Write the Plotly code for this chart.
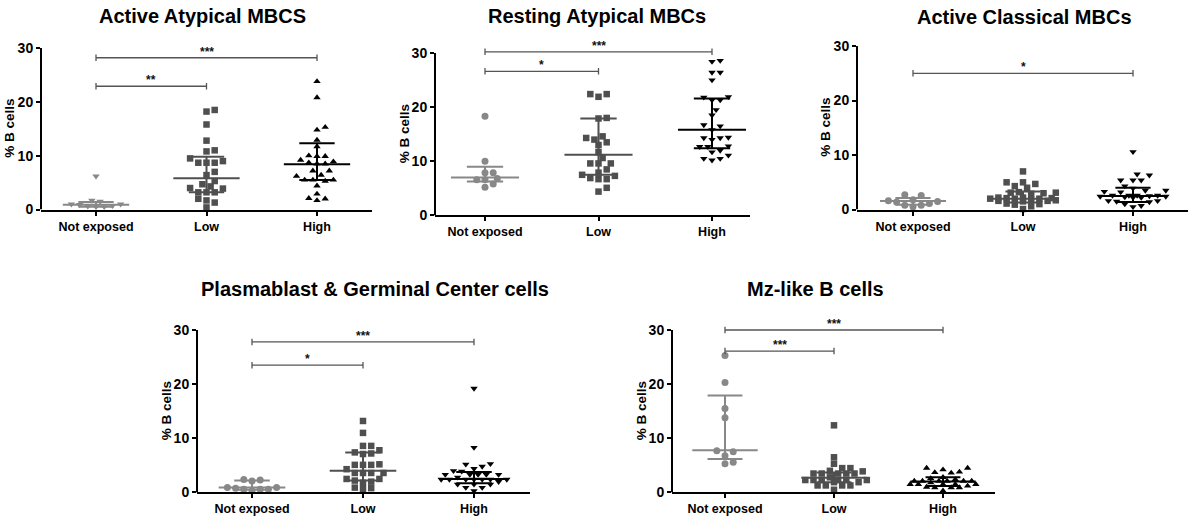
import numpy as np
import plotly.graph_objects as go

W, H = 1192, 523
FONT = "Liberation Sans, Arial, sans-serif"

# ---------------- data ----------------
groups = ["Not exposed", "Low", "High"]
titles = ["Active Atypical MBCS", "Resting Atypical MBCs", "Active Classical MBCs",
          "Plasmablast & Germinal Center cells", "Mz-like B cells"]
y_ticks = [0, 10, 20, 30]
y_title = "% B cells"

# Active Atypical MBCS
aa_ne = [6.2, 1.7, 1.5, 1.0, 1.0, 0.9, 0.7, 0.6, 0.5, 0.5]
aa_low = [18.2, 18.5, 15.8, 12.8, 11.0, 10.8, 9.5, 8.7, 8.7, 8.7, 9.0, 7.0, 6.4,
          4.0, 4.3, 4.7, 5.3, 3.9, 3.2, 3.2, 3.2, 1.7, 2.0, 1.3, 0.4]
aa_high = [23.8, 20.8, 15.3, 14.8, 12.9, 11.7, 9.9, 9.9, 10.0, 9.2, 8.7, 8.9, 8.5, 8.5,
           7.2, 7.2, 6.4, 6.2, 5.5, 5.5, 5.5, 5.3, 4.4, 2.1, 1.7, 2.0, 2.9]
aa_median = [0.9, 5.8, 8.4]
aa_q1 = [0.5, 3.2, 5.5]
aa_q3 = [1.4, 9.8, 12.3]
aa_sig = [(0, 2, 28.2, "***"), (0, 1, 22.9, "**")]

# Resting Atypical MBCs
ra_ne = [18.3, 10.0, 7.9, 7.9, 6.6, 6.6, 6.8, 5.8, 5.2]
ra_low = [22.4, 21.9, 22.4, 18.0, 17.9, 14.6, 14.0, 14.3, 13.0, 13.5, 11.7, 10.6,
          9.6, 8.5, 9.6, 9.6, 7.9, 7.3, 6.7, 6.7, 6.9, 7.5, 5.1, 4.4]
ra_high = [28.4, 28.6, 26.4, 26.4, 25.0, 21.8, 21.3, 21.3, 21.9, 19.5, 18.5, 16.5,
           15.8, 16.7, 14.3, 14.0, 14.3, 14.4, 12.7, 12.7, 11.7, 12.0, 10.5, 10.2,
           10.5, 11.1, 12.8]
ra_median = [7.0, 11.2, 15.8]
ra_q1 = [6.25, 7.5, 12.4]
ra_q3 = [9.0, 17.9, 21.6]
ra_sig = [(0, 2, 30.2, "***"), (0, 1, 26.6, "*")]

# Active Classical MBCs
ac_ne = [2.7, 2.6, 1.8, 1.6, 1.5, 1.1, 0.8, 0.8, 0.5, 1.4]
ac_low = [7.0, 5.0, 4.7, 5.0, 4.0, 4.3, 3.1, 3.0, 2.9, 3.1, 3.2, 2.2, 2.1, 2.0,
          2.0, 2.1, 2.2, 2.0, 1.8, 1.6, 1.5, 1.6, 1.7, 1.1, 1.0, 0.9, 0.6, 0.1]
ac_high = [10.6, 6.5, 6.3, 5.4, 5.4, 5.4, 4.3, 3.9, 3.5, 3.5, 3.3, 3.2, 2.6, 2.4,
           2.4, 2.6, 2.6, 2.6, 2.5, 2.2, 2.3, 2.2, 1.6, 1.4, 1.5, 1.6, 0.7, 0.5, 1.0]
ac_median = [1.55, 2.0, 2.5]
ac_q1 = [0.9, 1.3, 1.4]
ac_q3 = [2.1, 3.3, 4.0]
ac_sig = [(0, 2, 25.0, "*")]

# Plasmablast & Germinal Center cells
pg_ne = [2.1, 2.4, 2.3, 0.9, 0.6, 0.3, 0.6, 0.6, 0.9, 0.8]
pg_low = [13.2, 11.0, 8.6, 8.6, 7.8, 7.2, 7.1, 7.4, 5.2, 5.1, 4.3, 5.1, 5.1,
          3.6, 3.6, 3.6, 3.6, 2.2, 1.8, 2.5, 2.5, 2.0, 0.9, 0.6, 0.8]
pg_high = [19.2, 8.3, 5.3, 5.2, 4.8, 4.0, 3.9, 4.4, 3.3, 3.3, 3.3, 3.3, 3.3,
           2.4, 2.4, 2.4, 2.4, 2.4, 2.4, 2.4, 1.5, 1.5, 0.9, 0.9, 1.5, 0.3, 2.8, 2.0]
pg_median = [0.9, 4.0, 2.5]
pg_q1 = [0.5, 2.2, 1.7]
pg_q3 = [2.2, 7.4, 3.8]
pg_sig = [(0, 2, 27.8, "***"), (0, 1, 23.5, "*")]

# Mz-like B cells
mz_ne = [25.3, 20.3, 15.5, 13.8, 7.7, 7.5, 6.8, 5.3, 5.6]
mz_low = [12.4, 6.5, 5.3, 4.5, 4.5, 3.9, 3.5, 3.5, 3.5, 3.5, 3.5, 4.0, 2.3, 1.9,
          2.3, 2.3, 2.3, 2.3, 1.9, 2.3, 1.3, 1.3, 1.3, 1.3, 0.5, 2.8]
mz_high = [3.8, 3.6, 4.5, 4.2, 4.5, 3.7, 2.8, 2.1, 2.1, 2.1, 2.1, 2.1, 2.1, 1.5,
           1.5, 1.5, 1.5, 1.5, 0.9, 0.9, 0.9, 0.3, 2.6, 2.4, 1.2, 1.0, 1.8]
mz_median = [7.8, 2.7, 2.05]
mz_q1 = [6.2, 1.9, 1.2]
mz_q3 = [17.9, 3.7, 2.8]
mz_sig = [(0, 2, 30.0, "***"), (0, 1, 26.1, "***")]

panels = [
    dict(vals=[aa_ne, aa_low, aa_high], med=aa_median, q1=aa_q1, q3=aa_q3, sig=aa_sig),
    dict(vals=[ra_ne, ra_low, ra_high], med=ra_median, q1=ra_q1, q3=ra_q3, sig=ra_sig),
    dict(vals=[ac_ne, ac_low, ac_high], med=ac_median, q1=ac_q1, q3=ac_q3, sig=ac_sig),
    dict(vals=[pg_ne, pg_low, pg_high], med=pg_median, q1=pg_q1, q3=pg_q3, sig=pg_sig),
    dict(vals=[mz_ne, mz_low, mz_high], med=mz_median, q1=mz_q1, q3=mz_q3, sig=mz_sig),
]

# ---------------- layout / style ----------------
geom = [
    dict(left=41, right=372, base=211, top30=46, c0=96, c2=317, title=(202, 13)),
    dict(left=435, right=750, base=217, top30=51, c0=485, c2=712, title=(597, 13)),
    dict(left=857, right=1188, base=211, top30=44, c0=913, c2=1133, title=(1024, 14)),
    dict(left=197, right=530, base=500, top30=334, c0=252, c2=474, title=(375, 292)),
    dict(left=672, right=995, base=500, top30=334, c0=725, c2=943, title=(815, 292)),
]
symbols = [
    ("triangle-down", "square", "triangle-up"),
    ("circle", "square", "triangle-down"),
    ("circle", "square", "triangle-down"),
    ("circle", "square", "triangle-down"),
    ("circle", "square", "triangle-up"),
]
colors = ["#888888", "#4f4f4f", "#000000"]
bracket_color = "#555555"
YMAX = 31.0
MED_HALF = 0.30
CAP_HALF = 0.16
SWARM_HALF = 0.32
MSIZE = 6.5


def swarm(vals, ppx, ppy, dx=8.2, dy=6.2, maxw=0.32):
    """Deterministic beeswarm offsets (category units), width-limited like Prism."""
    vals = np.asarray(vals, float)
    order = np.argsort(vals, kind="stable")
    placed = []
    offs = np.zeros(len(vals))
    step = dx / 2.0
    lim = maxw * ppx
    cands = [0.0]
    m = 1
    while m * step <= lim:
        cands += [m * step, -m * step]
        m += 1
    for i in order:
        y = vals[i] * ppy
        best, best_d = 0.0, -1.0
        for c in cands:
            dmin = 9e9
            for (px, py) in placed:
                d = ((c - px) / dx) ** 2 + ((y - py) / dy) ** 2
                if d < dmin:
                    dmin = d
            if dmin >= 0.999:
                best = c
                break
            if dmin > best_d + 1e-9:
                best, best_d = c, dmin
        placed.append((best, y))
        offs[i] = best / ppx
    return offs


fig = go.Figure()
annotations = []
shapes = []
layout_axes = {}

for n, (p, g) in enumerate(zip(panels, geom), start=1):
    xa = "x" if n == 1 else f"x{n}"
    ya = "y" if n == 1 else f"y{n}"
    ppx = (g["c2"] - g["c0"]) / 2.0
    ppy = (g["base"] - g["top30"]) / 30.0
    xr = [(g["left"] - g["c0"]) / ppx, (g["right"] - g["c0"]) / ppx]
    ytop_px = g["base"] - ppy * YMAX
    xdom = [g["left"] / W, g["right"] / W]
    ydom = [1 - g["base"] / H, 1 - ytop_px / H]

    # points
    for k in range(3):
        v = p["vals"][k]
        off = swarm(v, ppx, ppy, maxw=SWARM_HALF)
        sym = symbols[n - 1][k]
        fig.add_trace(go.Scatter(
            x=k + off, y=v, mode="markers", xaxis=xa, yaxis=ya,
            marker=dict(symbol=sym, size=MSIZE + (0.5 if sym == "circle" else 0),
                        color=colors[k], line=dict(width=0)),
            cliponaxis=False, showlegend=False, hoverinfo="skip"))
    # median + IQR
    for k in range(3):
        m, lo, hi = p["med"][k], p["q1"][k], p["q3"][k]
        fig.add_trace(go.Scatter(
            x=[k - MED_HALF, k + MED_HALF, None, k, k, None,
               k - CAP_HALF, k + CAP_HALF, None, k - CAP_HALF, k + CAP_HALF],
            y=[m, m, None, lo, hi, None, lo, lo, None, hi, hi],
            mode="lines", xaxis=xa, yaxis=ya,
            line=dict(color=colors[k], width=2),
            showlegend=False, hoverinfo="skip"))
    # significance brackets
    for (a, b, lvl, lab) in p["sig"]:
        t = 0.6
        fig.add_trace(go.Scatter(
            x=[a, a, None, a, b, None, b, b],
            y=[lvl - t, lvl + t, None, lvl, lvl, None, lvl - t, lvl + t],
            mode="lines", xaxis=xa, yaxis=ya,
            line=dict(color=bracket_color, width=1.3),
            showlegend=False, hoverinfo="skip"))
        annotations.append(dict(
            x=(a + b) / 2, y=lvl, xref=xa, yref=ya, text=f"<b>{lab}</b>",
            showarrow=False, yanchor="bottom", yshift=-3,
            font=dict(family=FONT, size=12, color="#111111")))

    # y-axis line (stops at 30)
    shapes.append(dict(type="line", xref=f"{xa} domain", yref=ya,
                       x0=0, x1=0, y0=0, y1=30,
                       line=dict(color="black", width=2)))

    # titles
    tx, ty = g["title"]
    annotations.append(dict(x=tx / W, y=1 - ty / H, xref="paper", yref="paper",
                            text=f"<b>{titles[n - 1]}</b>", showarrow=False,
                            xanchor="center", yanchor="middle",
                            font=dict(family=FONT, size=20, color="black")))
    annotations.append(dict(x=(g["left"] - 31) / W, y=1 - ((g["base"] + g["top30"]) / 2) / H,
                            xref="paper", yref="paper", text=f"<b>{y_title}</b>",
                            showarrow=False, textangle=-90,
                            xanchor="center", yanchor="middle",
                            font=dict(family=FONT, size=13.5, color="black")))

    key = "" if n == 1 else str(n)
    layout_axes[f"xaxis{key}"] = dict(
        domain=xdom, anchor=ya, range=xr, tickmode="array", tickvals=[0, 1, 2],
        ticktext=[f"<b>{t}</b>" for t in groups], ticks="outside", ticklen=4,
        tickwidth=2, tickcolor="black", showline=True, linewidth=2, linecolor="black",
        showgrid=False, zeroline=False, fixedrange=True,
        tickfont=dict(family=FONT, size=12.5, color="black"))
    layout_axes[f"yaxis{key}"] = dict(
        domain=ydom, anchor=xa, range=[0, YMAX], tickmode="array", tickvals=y_ticks,
        ticktext=[f"<b>{t}</b>" for t in y_ticks], ticks="outside", ticklen=4,
        tickwidth=2, tickcolor="black", showline=False, showgrid=False,
        zeroline=False, fixedrange=True,
        tickfont=dict(family=FONT, size=14, color="black"))

fig.update_layout(
    width=W, height=H, margin=dict(l=0, r=0, t=0, b=0),
    paper_bgcolor="white", plot_bgcolor="white",
    showlegend=False, hovermode=False,
    annotations=annotations, shapes=shapes,
    font=dict(family=FONT, color="black"),
    **layout_axes)

fig.write_html("out.html", config={"displayModeBar": False},
               post_script="document.body.style.margin='0px';document.body.style.overflow='hidden';")
